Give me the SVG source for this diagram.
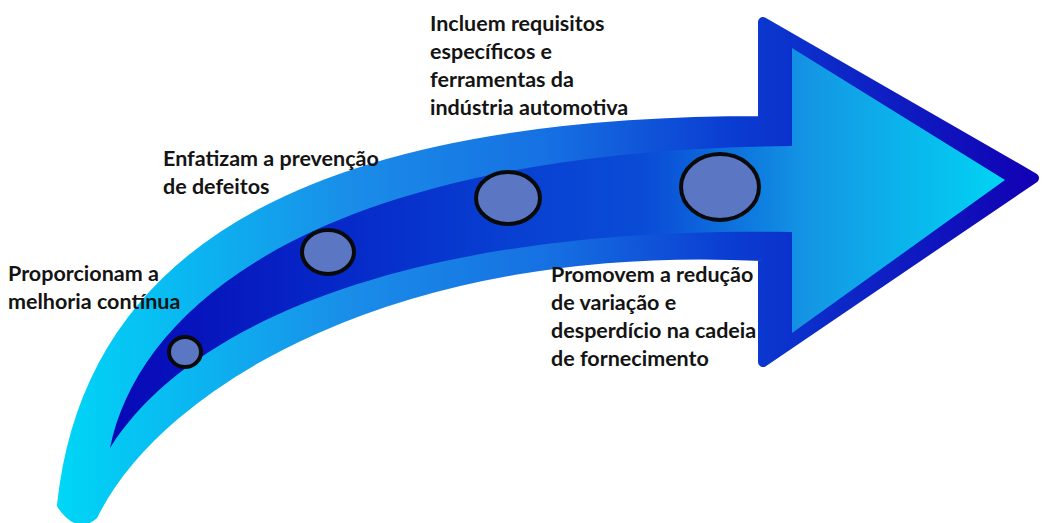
<svg xmlns="http://www.w3.org/2000/svg" width="1042" height="523" viewBox="0 0 1042 523">
<defs>
<linearGradient id="gOuter" gradientUnits="userSpaceOnUse" x1="60" y1="0" x2="1040" y2="0">
<stop offset="0" stop-color="#00d6f6"/>
<stop offset="0.15" stop-color="#0cb2f0"/>
<stop offset="0.3" stop-color="#1a8ce8"/>
<stop offset="0.5" stop-color="#1670e2"/>
<stop offset="0.68" stop-color="#0a3ed2"/>
<stop offset="1" stop-color="#1200b4"/>
</linearGradient>
<linearGradient id="gInner" gradientUnits="userSpaceOnUse" x1="110" y1="0" x2="1005" y2="0">
<stop offset="0" stop-color="#0808b6"/>
<stop offset="0.25" stop-color="#0628c8"/>
<stop offset="0.45" stop-color="#0840d2"/>
<stop offset="0.6" stop-color="#0a4cd6"/>
<stop offset="0.73" stop-color="#0f80e0"/>
<stop offset="0.78" stop-color="#1496e4"/>
<stop offset="1" stop-color="#00d4f4"/>
</linearGradient>
<style>
.lbl{font-family:Lato,"Open Sans","Liberation Sans",sans-serif;font-weight:700;font-size:21.5px;fill:#141414}
.dot{fill:#5b76c2;stroke:#0a0a0a;stroke-width:4}
</style>
</defs>
<rect width="1042" height="523" fill="#ffffff"/>
<g id="arrow">
<path d="M 62 505 C 90 240 330 121 763 121 L 763 22 L 1034 178 L 763 362 L 763 256 C 400 238 160 380 93 515 Q 78 528 62 505 Z" fill="url(#gOuter)" stroke="url(#gOuter)" stroke-width="10" stroke-linejoin="round"/>
<path d="M 110 448 C 140 300 330 150 792 146 L 792 48 L 1005 180 L 792 333 L 792 232 C 420 225 190 320 110 448 Z" fill="url(#gInner)"/>
</g>
<g id="dots">
<ellipse class="dot" cx="185" cy="352" rx="16" ry="15"/>
<ellipse class="dot" cx="328" cy="252" rx="26" ry="22"/>
<ellipse class="dot" cx="508" cy="198" rx="32" ry="26"/>
<ellipse class="dot" cx="720" cy="187" rx="39" ry="33"/>
</g>
<g id="label1"><text class="lbl" x="8" y="281">Proporcionam a</text><text class="lbl" x="8" y="309">melhoria contínua</text></g>
<g id="label2"><text class="lbl" x="163" y="166">Enfatizam a prevenção</text><text class="lbl" x="163" y="194">de defeitos</text></g>
<g id="label3"><text class="lbl" x="430" y="31">Incluem requisitos</text><text class="lbl" x="430" y="59">específicos e</text><text class="lbl" x="430" y="87">ferramentas da</text><text class="lbl" x="430" y="115">indústria automotiva</text></g>
<g id="label4"><text class="lbl" x="551" y="282">Promovem a redução</text><text class="lbl" x="551" y="310">de variação e</text><text class="lbl" x="551" y="338">desperdício na cadeia</text><text class="lbl" x="551" y="366">de fornecimento</text></g>
</svg>
